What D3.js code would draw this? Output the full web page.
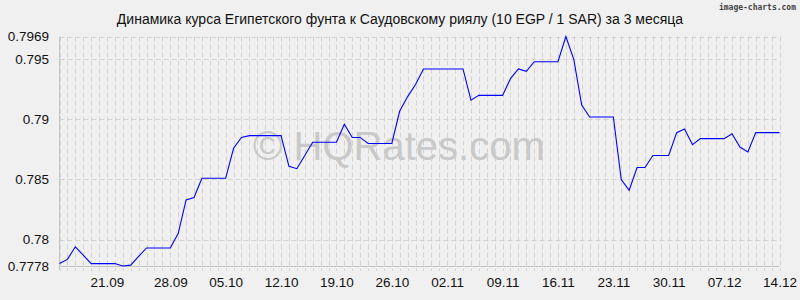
<!DOCTYPE html>
<html>
<head>
    <meta charset="utf-8">
    <title>EGP / SAR</title>
    <script src="https://d3js.org/d3.v7.min.js"></script>
    <style>
        body { margin: 0; background: #f0f0f0; }
        .grid line { stroke: #d2d2d2; stroke-dasharray: 5,3; }
        .axis text { font-family: "Liberation Sans", Arial, sans-serif; font-size: 13.5px; fill: #111; }
        .axis path, .axis line { display: none; }
        .frame { stroke: #c4c4c4; stroke-width: 1; }
        .rate { fill: none; stroke: #0000ff; stroke-width: 1.1; }
    </style>
</head>
<body>
<div id="chart"></div>
<script>
    // Rates, one per day, 14.09 .. 14.12
    var rates = [
        0.7780, 0.77835, 0.7794, 0.7787, 0.7780, 0.7780, 0.7780, 0.7780, 0.7778, 0.77787,
        0.7786, 0.7793, 0.7793, 0.7793, 0.7793, 0.7805, 0.7833, 0.7835, 0.7851, 0.7851,
        0.7851, 0.7851, 0.7876, 0.7885, 0.78865, 0.78865, 0.78865, 0.78865, 0.78865, 0.7861,
        0.7859, 0.7870, 0.7881, 0.7881, 0.7881, 0.7881, 0.7896, 0.7885, 0.7885, 0.7880,
        0.7880, 0.7880, 0.7880, 0.7907, 0.7919, 0.7929, 0.7942, 0.7942, 0.7942, 0.7942,
        0.7942, 0.7942, 0.7916, 0.7920, 0.7920, 0.7920, 0.7920, 0.7934, 0.7942, 0.7940,
        0.7948, 0.7948, 0.7948, 0.7948, 0.7969, 0.7950, 0.7912, 0.7902, 0.7902, 0.7902,
        0.7902, 0.7850, 0.7841, 0.7860, 0.7860, 0.7870, 0.7870, 0.7870, 0.7889, 0.7892,
        0.7879, 0.7884, 0.7884, 0.7884, 0.7884, 0.7888, 0.7877, 0.7873, 0.7889, 0.7889,
        0.7889, 0.7889
    ];

    // x axis labels and the day index they sit on
    var dateLabels = ["21.09", "28.09", "05.10", "12.10", "19.10", "26.10", "02.11",
                      "09.11", "16.11", "23.11", "30.11", "07.12", "14.12"];
    var dateIndex = [6, 14, 21, 28, 35, 42, 49, 56, 63, 70, 77, 84, 91];

    var yTicks = [0.7778, 0.78, 0.785, 0.79, 0.795, 0.7969];
    var yLabels = ["0.7778", "0.78", "0.785", "0.79", "0.795", "0.7969"];

    var title = "Динамика курса Египетского фунта к Саудовскому риялу (10 EGP / 1 SAR) за 3 месяца";

    var width = 800, height = 300;
    // plot box (note: "top" is taken by window.top)
    var plotLeft = 59.5, plotRight = 779.5, plotTop = 36.5, plotBottom = 266;

    var svg = d3.select("#chart").append("svg")
        .attr("width", width)
        .attr("height", height);

    svg.append("rect").attr("width", width).attr("height", height).attr("fill", "#f0f0f0");

    var x = d3.scaleLinear().domain([0, rates.length - 1]).range([plotLeft, plotRight]);
    var y = d3.scaleLinear().domain([0.7778, 0.7969]).range([plotBottom, plotTop]);

    // grid: a dashed line for every day, and one per y tick
    svg.append("g").attr("class", "grid")
        .selectAll("line")
        .data(d3.range(rates.length))
        .enter().append("line")
        .attr("x1", d => Math.round(x(d)) + 0.5)
        .attr("x2", d => Math.round(x(d)) + 0.5)
        .attr("y1", plotTop)
        .attr("y2", plotBottom + 5);

    svg.append("g").attr("class", "grid")
        .selectAll("line")
        .data(yTicks)
        .enter().append("line")
        .attr("x1", plotLeft)
        .attr("x2", plotRight)
        .attr("y1", d => Math.round(y(d)) + 0.5)
        .attr("y2", d => Math.round(y(d)) + 0.5);

    svg.append("line").attr("class", "frame")
        .attr("x1", plotLeft).attr("x2", plotLeft).attr("y1", plotTop).attr("y2", plotBottom + 4);
    svg.append("line").attr("class", "frame")
        .attr("x1", plotLeft).attr("x2", plotRight).attr("y1", plotBottom + 0.5).attr("y2", plotBottom + 0.5);

    // watermark
    svg.append("text")
        .attr("x", 253)
        .attr("y", 160)
        .attr("font-family", "Liberation Sans, Arial, sans-serif")
        .attr("font-size", 40)
        .attr("fill", "#c9c9c9")
        .text("© HQRates.com");

    var line = d3.line()
        .x((d, i) => x(i))
        .y(d => y(d));

    svg.append("path")
        .datum(rates)
        .attr("class", "rate")
        .attr("d", line);

    // axes
    svg.append("g")
        .attr("class", "axis")
        .attr("transform", "translate(" + plotLeft + ",0)")
        .call(d3.axisLeft(y)
            .tickValues(yTicks)
            .tickSize(0)
            .tickPadding(10.5)
            .tickFormat((d, i) => yLabels[i]));

    svg.append("g")
        .attr("class", "axis")
        .attr("transform", "translate(0," + plotBottom + ")")
        .call(d3.axisBottom(x)
            .tickValues(dateIndex)
            .tickSize(0)
            .tickPadding(11)
            .tickFormat((d, i) => dateLabels[i]));

    svg.append("text")
        .attr("x", 400)
        .attr("y", 24)
        .attr("text-anchor", "middle")
        .attr("font-family", "Liberation Sans, Arial, sans-serif")
        .attr("font-size", 14)
        .attr("fill", "#111")
        .text(title);

    svg.append("text")
        .attr("x", 796)
        .attr("y", 9.5)
        .attr("text-anchor", "end")
        .attr("font-family", "DejaVu Sans Mono, monospace")
        .attr("font-size", 8)
        .attr("font-weight", "bold")
        .attr("fill", "#444")
        .text("image-charts.com");
</script>
</body>
</html>
